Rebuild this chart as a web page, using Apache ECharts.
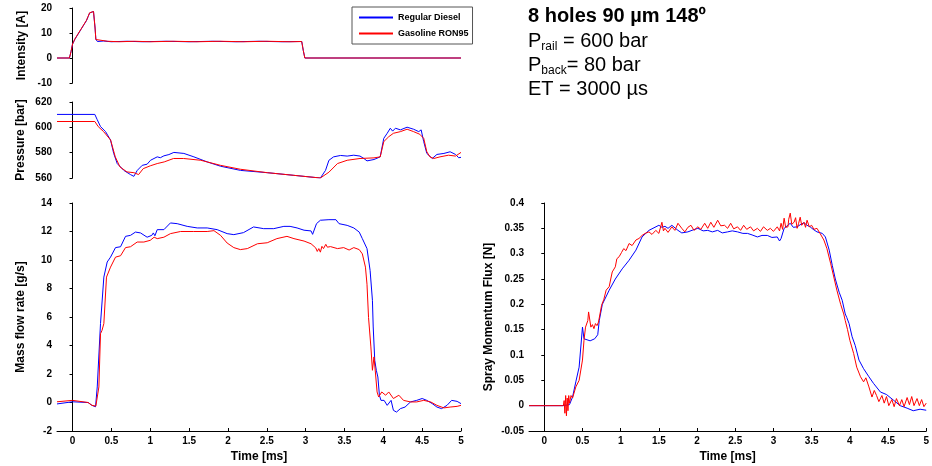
<!DOCTYPE html>
<html>
<head>
<meta charset="utf-8">
<script src="https://cdn.jsdelivr.net/npm/echarts@6/dist/echarts.min.js"></script>
<style>html,body{margin:0;padding:0;background:#fff;}#c{width:932px;height:466px;}</style>
</head>
<body>
<div id="c"></div>
<script>
// ---- data (time [ms], value) ----
var timeTicks = [0, 0.5, 1, 1.5, 2, 2.5, 3, 3.5, 4, 4.5, 5];
var seriesNames = ['Regular Diesel', 'Gasoline RON95'];

var intensityDiesel = [[-0.2,0],[-0.04,0],[-0.02,2.5],[0,5.5],[0.03,7.5],[0.07,9.5],[0.11,11.5],[0.15,13.5],[0.18,15],[0.2,16.5],[0.22,18],[0.24,18.6],[0.27,18.6],[0.28,18],[0.29,12],[0.3,7.5],[0.32,6.6],[0.4,6.8],[0.5,6.5],[0.7,6.7],[0.9,6.5],[1.2,6.7],[1.5,6.5],[1.8,6.7],[2.1,6.5],[2.4,6.7],[2.7,6.5],[2.95,6.6],[2.97,3],[2.99,0],[5,0]];
var intensityGasoline = [[-0.2,0],[-0.04,0],[-0.02,2.5],[0,5.6],[0.03,7.6],[0.07,9.6],[0.11,11.6],[0.15,13.6],[0.18,15.1],[0.2,16.6],[0.22,18.1],[0.24,18.6],[0.27,18.6],[0.28,18],[0.29,12],[0.3,7.4],[0.32,6.6],[0.45,6.7],[0.6,6.5],[0.8,6.7],[1.0,6.5],[1.3,6.7],[1.6,6.5],[1.9,6.7],[2.2,6.5],[2.5,6.7],[2.8,6.5],[2.95,6.6],[2.97,3],[2.99,0],[5,0]];

var pressureDiesel = [[-0.2,610.2],[0.287,610.2],[0.318,606],[0.36,600.6],[0.425,596.6],[0.489,590],[0.53,579.4],[0.575,571.4],[0.66,566],[0.746,562.7],[0.789,561.3],[0.833,566],[0.897,570],[0.96,570.9],[1.004,574],[1.09,576.7],[1.13,576],[1.176,577.5],[1.24,578.5],[1.304,580.2],[1.433,579.4],[1.562,576.7],[1.733,572.7],[1.905,569.3],[2.162,566],[2.506,564.2],[2.848,562.1],[3.19,560],[3.256,566],[3.3,574],[3.36,576.7],[3.45,577.8],[3.535,577.3],[3.62,578],[3.7,577.3],[3.75,575.4],[3.79,573.5],[3.88,574.6],[3.96,576.7],[4.006,591.3],[4.05,595.3],[4.09,599.3],[4.12,597],[4.156,599.3],[4.22,598],[4.306,600.1],[4.39,598.5],[4.456,596.6],[4.487,598],[4.52,588.7],[4.56,579.4],[4.63,575.4],[4.69,578.6],[4.78,579.4],[4.86,580.7],[4.93,578.6],[4.97,576],[5,576.3]];
var pressureGasoline = [[-0.2,604.6],[0.287,604.6],[0.33,600.6],[0.4,596.6],[0.49,590],[0.55,576.7],[0.61,568.8],[0.7,564.8],[0.79,564.2],[0.85,562.7],[0.91,567.4],[1.0,569.6],[1.09,571.4],[1.18,572.7],[1.3,575.4],[1.43,575.4],[1.65,574],[1.905,570],[2.16,566.9],[2.506,564.2],[2.85,562.1],[3.19,560],[3.3,564.6],[3.41,571.4],[3.535,574],[3.7,575.4],[3.88,575.9],[3.96,576.7],[4.006,588.7],[4.07,592.6],[4.13,595.3],[4.22,596.6],[4.306,598.5],[4.39,596.6],[4.47,594.5],[4.52,591.3],[4.56,580.7],[4.6,576.7],[4.65,575.4],[4.73,576.7],[4.84,578],[4.93,577.3],[5,580.2]];

var massDiesel = [[-0.2,-0.1],[0,0.05],[0.2,0],[0.25,-0.2],[0.296,-0.3],[0.318,1.09],[0.36,5.54],[0.403,8.8],[0.446,9.86],[0.489,10.2],[0.553,10.87],[0.618,10.93],[0.682,11.66],[0.746,11.73],[0.81,11.96],[0.875,11.9],[0.96,11.6],[1.02,11.73],[1.04,11.9],[1.06,11.7],[1.09,12.13],[1.176,12.13],[1.26,12.6],[1.347,12.55],[1.476,12.36],[1.605,12.25],[1.733,12.25],[1.862,12.13],[1.99,11.85],[2.076,11.78],[2.2,11.92],[2.33,12.32],[2.46,12.2],[2.59,12.2],[2.72,12.36],[2.8,12.36],[2.89,12.25],[2.98,12.09],[3.07,12.04],[3.09,11.8],[3.14,12.55],[3.19,12.79],[3.3,12.83],[3.39,12.83],[3.43,12.55],[3.535,12.43],[3.62,12.25],[3.69,11.96],[3.73,11.5],[3.79,10.8],[3.83,9.27],[3.86,7.17],[3.87,5.3],[3.89,2.96],[3.91,2.26],[3.93,1.79],[3.95,0.5],[3.97,0.15],[4.01,0.15],[4.05,-0.2],[4.1,0.15],[4.13,-0.55],[4.17,-0.67],[4.22,-0.43],[4.28,-0.32],[4.35,0.04],[4.43,0.15],[4.5,0.28],[4.56,0.15],[4.63,-0.08],[4.69,-0.32],[4.75,-0.43],[4.82,-0.2],[4.88,0.15],[4.95,0.08],[5,-0.08]];
var massGasoline = [[-0.2,0.05],[0,0.15],[0.2,0],[0.25,-0.2],[0.3,-0.25],[0.339,1.09],[0.36,4.83],[0.38,5.07],[0.403,5.54],[0.437,8.8],[0.489,9.5],[0.553,10.2],[0.618,10.3],[0.682,10.87],[0.746,10.93],[0.832,11.26],[0.918,11.26],[1.0,11.38],[1.05,11.6],[1.09,11.5],[1.176,11.6],[1.26,11.85],[1.39,12.0],[1.56,12.0],[1.733,12.0],[1.82,12.06],[1.905,11.73],[1.99,11.19],[2.076,10.87],[2.16,10.73],[2.25,10.8],[2.38,11.14],[2.506,11.21],[2.63,11.5],[2.76,11.66],[2.85,11.5],[2.98,11.33],[3.07,11.14],[3.13,10.85],[3.15,10.6],[3.17,10.8],[3.19,10.55],[3.21,10.96],[3.23,10.8],[3.26,11.1],[3.28,10.9],[3.32,10.94],[3.41,10.8],[3.49,10.87],[3.56,10.7],[3.62,10.87],[3.69,10.73],[3.73,10.43],[3.77,9.5],[3.79,8.3],[3.81,5.96],[3.84,3.9],[3.86,2.26],[3.88,3.2],[3.9,2.0],[3.92,0.74],[3.94,0.39],[3.98,0.74],[4.03,0.51],[4.07,0.74],[4.13,0.28],[4.2,0.51],[4.26,0.15],[4.35,0.04],[4.43,0.04],[4.52,0.15],[4.61,0.04],[4.69,-0.2],[4.78,-0.38],[4.86,-0.32],[4.95,-0.27],[5,-0.2]];

var fluxDiesel = [[-0.2,0],[0.244,0],[0.33,0.002],[0.37,0.017],[0.413,0.047],[0.456,0.076],[0.5,0.155],[0.52,0.132],[0.6,0.128],[0.66,0.132],[0.7,0.14],[0.72,0.168],[0.76,0.2],[0.85,0.228],[0.93,0.25],[1.02,0.27],[1.11,0.287],[1.2,0.307],[1.28,0.333],[1.37,0.346],[1.5,0.356],[1.54,0.352],[1.58,0.354],[1.62,0.35],[1.67,0.356],[1.75,0.346],[1.8,0.341],[1.88,0.343],[1.95,0.347],[2.01,0.35],[2.08,0.345],[2.14,0.346],[2.2,0.343],[2.27,0.346],[2.33,0.341],[2.4,0.343],[2.46,0.345],[2.53,0.343],[2.6,0.34],[2.66,0.34],[2.72,0.337],[2.79,0.333],[2.85,0.336],[2.92,0.336],[2.98,0.332],[3.05,0.333],[3.08,0.325],[3.1,0.33],[3.14,0.35],[3.18,0.355],[3.22,0.36],[3.26,0.352],[3.31,0.353],[3.36,0.358],[3.4,0.361],[3.44,0.356],[3.48,0.353],[3.52,0.348],[3.57,0.343],[3.64,0.34],[3.68,0.333],[3.73,0.307],[3.77,0.277],[3.81,0.25],[3.86,0.224],[3.9,0.208],[3.94,0.181],[3.96,0.174],[3.99,0.162],[4.03,0.136],[4.07,0.119],[4.12,0.09],[4.18,0.073],[4.25,0.057],[4.31,0.044],[4.4,0.027],[4.48,0.022],[4.57,0.011],[4.66,0],[4.75,-0.005],[4.83,-0.01],[4.92,-0.007],[5,-0.009]];
var fluxGasoline = [[-0.2,0],[0.25,0],[0.26,0.01],[0.27,-0.015],[0.28,0.02],[0.29,-0.02],[0.30,0.015],[0.31,-0.01],[0.32,0.02],[0.33,0.005],[0.35,0.02],[0.37,0.015],[0.413,0.037],[0.456,0.05],[0.5,0.09],[0.52,0.129],[0.54,0.155],[0.57,0.168],[0.58,0.185],[0.61,0.155],[0.63,0.16],[0.65,0.152],[0.67,0.162],[0.69,0.158],[0.71,0.165],[0.75,0.198],[0.78,0.21],[0.81,0.228],[0.85,0.235],[0.87,0.25],[0.89,0.264],[0.93,0.274],[0.95,0.29],[0.98,0.294],[1.01,0.302],[1.04,0.31],[1.07,0.306],[1.11,0.32],[1.15,0.316],[1.2,0.327],[1.24,0.33],[1.28,0.336],[1.32,0.34],[1.37,0.343],[1.41,0.338],[1.46,0.346],[1.5,0.34],[1.54,0.362],[1.56,0.345],[1.58,0.35],[1.62,0.342],[1.67,0.353],[1.71,0.346],[1.75,0.36],[1.8,0.35],[1.84,0.343],[1.88,0.352],[1.92,0.356],[1.96,0.346],[2.01,0.353],[2.05,0.348],[2.1,0.36],[2.14,0.35],[2.18,0.362],[2.22,0.352],[2.27,0.366],[2.31,0.355],[2.36,0.356],[2.4,0.35],[2.44,0.36],[2.48,0.349],[2.53,0.353],[2.57,0.346],[2.61,0.356],[2.65,0.348],[2.7,0.353],[2.74,0.345],[2.79,0.35],[2.83,0.344],[2.87,0.353],[2.92,0.346],[2.96,0.35],[3.0,0.344],[3.05,0.353],[3.08,0.345],[3.1,0.36],[3.12,0.348],[3.14,0.37],[3.16,0.352],[3.19,0.353],[3.2,0.368],[3.22,0.38],[3.24,0.358],[3.27,0.362],[3.29,0.371],[3.31,0.35],[3.33,0.36],[3.35,0.372],[3.37,0.356],[3.4,0.362],[3.42,0.352],[3.44,0.366],[3.47,0.353],[3.5,0.356],[3.53,0.348],[3.57,0.35],[3.61,0.34],[3.66,0.327],[3.7,0.31],[3.75,0.28],[3.79,0.254],[3.83,0.228],[3.88,0.2],[3.92,0.181],[3.94,0.168],[3.97,0.15],[4.0,0.129],[4.05,0.103],[4.09,0.076],[4.14,0.057],[4.18,0.047],[4.21,0.055],[4.25,0.037],[4.29,0.017],[4.32,0.03],[4.35,0.02],[4.38,0.008],[4.42,0.02],[4.45,0.005],[4.48,0.018],[4.51,0.0],[4.55,0.012],[4.58,-0.002],[4.61,0.014],[4.65,0.0],[4.68,0.012],[4.71,-0.002],[4.75,0.016],[4.78,0.002],[4.81,0.018],[4.84,0.0],[4.88,0.014],[4.91,0.0],[4.94,0.012],[4.97,-0.002],[5,0.005]];

// ---- chart ----
var FONT = '"Liberation Sans", Arial, sans-serif';
var BLUE = '#0000ff', RED = '#ff0000';
var chart = echarts.init(document.getElementById('c'), null, {renderer: 'canvas'});

function xAx(grid, show) {
  return {
    type: 'value', gridIndex: grid, min: -0.2, max: 5, show: show,
    name: 'Time [ms]', nameLocation: 'middle', nameGap: 20,
    nameTextStyle: {fontFamily: FONT, fontWeight: 'bold', fontSize: 12, color: '#000'},
    axisLine: {show: true, onZero: false, lineStyle: {color: '#000', width: 1}},
    axisTick: {show: true, inside: true, length: 3, customValues: timeTicks, lineStyle: {color: '#000'}},
    axisLabel: {customValues: timeTicks, fontFamily: FONT, fontWeight: 'bold', fontSize: 10, color: '#000', margin: 5},
    splitLine: {show: false}
  };
}
function yAx(grid, min, max, interval, name, gap) {
  return {
    type: 'value', gridIndex: grid, min: min, max: max, interval: interval,
    name: name, nameLocation: 'middle', nameGap: gap,
    nameTextStyle: {fontFamily: FONT, fontWeight: 'bold', fontSize: 12, color: '#000'},
    axisLine: {show: true, lineStyle: {color: '#000', width: 1}},
    axisTick: {show: true, inside: false, length: 3, lineStyle: {color: '#000'}},
    axisLabel: {fontFamily: FONT, fontWeight: 'bold', fontSize: 10, color: '#000', margin: 5},
    splitLine: {show: false}
  };
}
function ser(name, x, y, data, color) {
  return {
    name: name, type: 'line', xAxisIndex: x, yAxisIndex: y, data: data,
    symbol: 'none', showSymbol: false, smooth: false, animation: false,
    lineStyle: {color: color, width: 1}, itemStyle: {color: color}
  };
}

var option = {
  animation: false,
  backgroundColor: '#fff',
  grid: [
    {left: 57, top: 8, width: 404, height: 75},
    {left: 57, top: 102, width: 404, height: 76},
    {left: 57, top: 203, width: 404, height: 228},
    {left: 529, top: 203, width: 402, height: 228}
  ],
  xAxis: [xAx(0, false), xAx(1, false), xAx(2, true), xAx(3, true)],
  yAxis: [
    yAx(0, -10, 20, 10, 'Intensity [A]', 29),
    yAx(1, 560, 620, 20, 'Pressure [bar]', 30),
    yAx(2, -2, 14, 2, 'Mass flow rate [g/s]', 30),
    yAx(3, -0.05, 0.4, 0.05, 'Spray Momentum Flux [N]', 34)
  ],
  legend: {
    data: seriesNames, orient: 'vertical', left: 352, top: 7,
    padding: [6, 4, 6, 6], itemGap: 7, itemWidth: 34, itemHeight: 10,
    borderColor: '#555', borderWidth: 1, backgroundColor: '#fff',
    textStyle: {fontFamily: FONT, fontWeight: 'bold', fontSize: 9, color: '#000'},
    itemStyle: {opacity: 0}
  },
  graphic: [
    {type: 'text', left: 528, top: 6, style: {text: '8 holes 90 µm 148º', font: 'bold 20px ' + FONT, fill: '#000'}},
    {type: 'text', left: 528, top: 31, style: {
      text: '{p|P}{s|rail}{p| = 600 bar}',
      rich: {p: {fontFamily: FONT, fontSize: 20, lineHeight: 23, fill: '#000'}, s: {fontFamily: FONT, fontSize: 12, lineHeight: 10, verticalAlign: 'bottom', fill: '#000'}}
    }},
    {type: 'text', left: 528, top: 55, style: {
      text: '{p|P}{s|back}{p|= 80 bar}',
      rich: {p: {fontFamily: FONT, fontSize: 20, lineHeight: 23, fill: '#000'}, s: {fontFamily: FONT, fontSize: 12, lineHeight: 10, verticalAlign: 'bottom', fill: '#000'}}
    }},
    {type: 'text', left: 528, top: 79, style: {text: 'ET = 3000 µs', font: '20px ' + FONT, fill: '#000'}}
  ],
  series: [
    ser(seriesNames[0], 0, 0, intensityDiesel, BLUE),
    ser(seriesNames[1], 0, 0, intensityGasoline, RED),
    ser(seriesNames[0], 1, 1, pressureDiesel, BLUE),
    ser(seriesNames[1], 1, 1, pressureGasoline, RED),
    ser(seriesNames[0], 2, 2, massDiesel, BLUE),
    ser(seriesNames[1], 2, 2, massGasoline, RED),
    ser(seriesNames[0], 3, 3, fluxDiesel, BLUE),
    ser(seriesNames[1], 3, 3, fluxGasoline, RED)
  ]
};
chart.setOption(option);
</script>
</body>
</html>
